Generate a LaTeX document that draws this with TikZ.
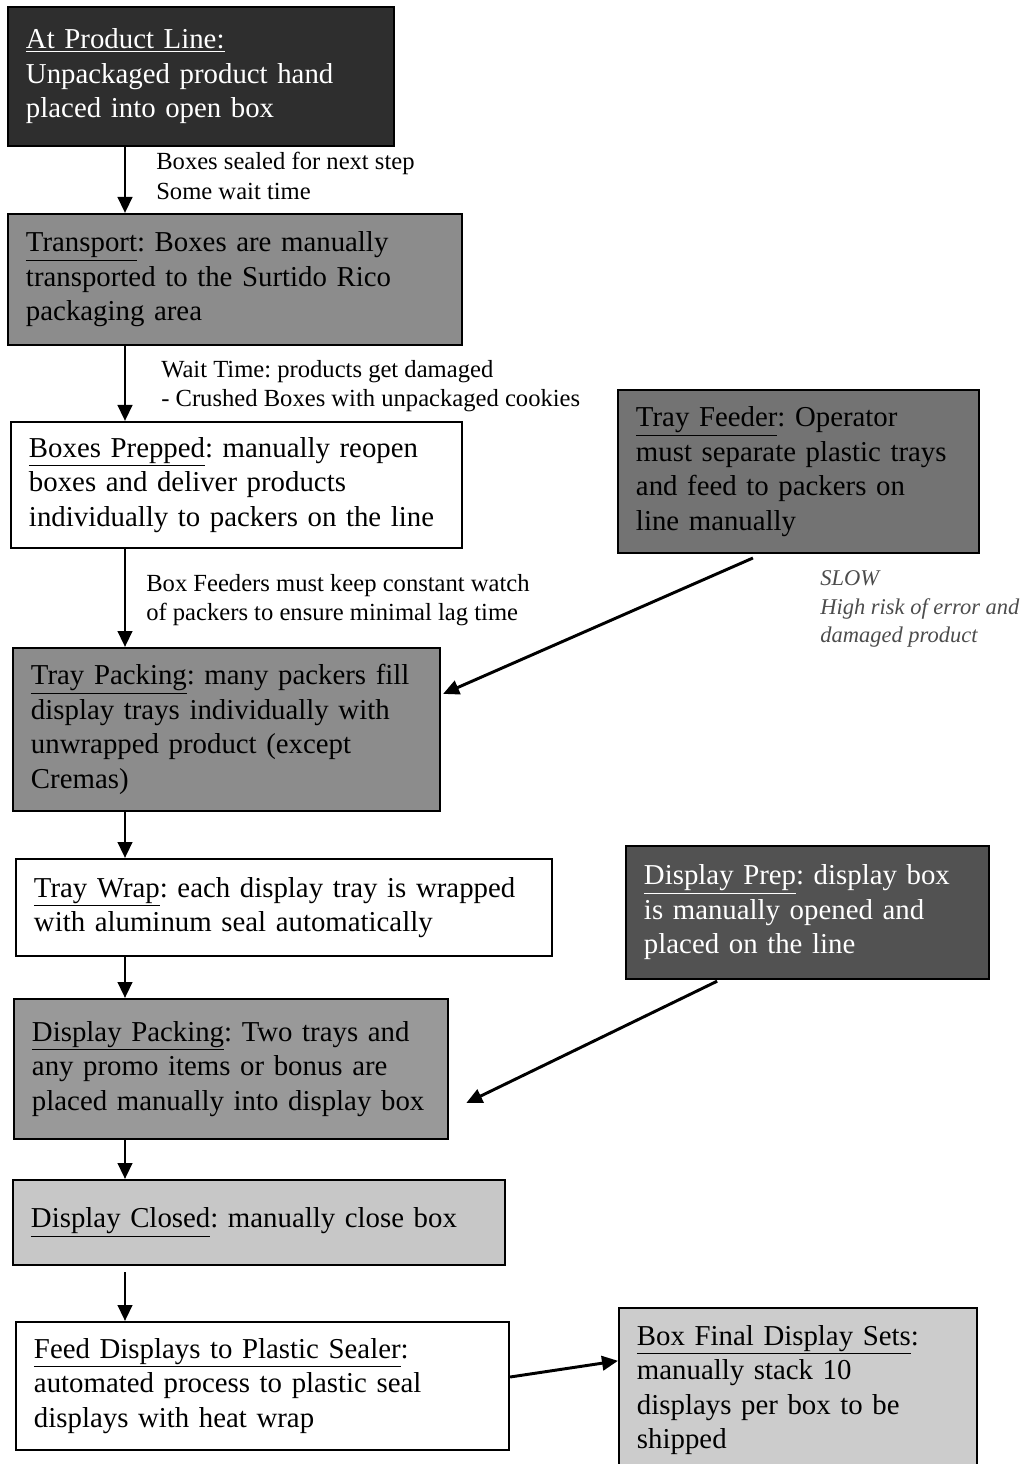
\documentclass[tikz,border=0pt]{standalone}
\usepackage{fontspec}
\setmainfont{Liberation Serif}
\usetikzlibrary{positioning,arrows.meta}
\frenchspacing

\tikzset{
  stepbox/.style={draw, line width=1.4pt, anchor=north west, inner xsep=0.45cm, inner ysep=0pt,
    align=left, font=\fontsize{20.5}{24.5}\selectfont},
  flow/.style={-{Triangle[length=0.4cm,width=0.36cm]}, line width=2.1pt},
  note/.style={anchor=west, inner sep=0pt, align=left, font=\fontsize{17.5}{21}\selectfont},
}

\begin{document}
\begin{tikzpicture}[x=0.025cm, y=-0.025cm]

    \useasboundingbox (0,0) rectangle (1022,1464);

    % main line
    \node[stepbox, fill=black!82, text=white, minimum width=9.65cm, minimum height=3.475cm, text width=8.75cm]
        (prodline) at (7,6) {\underline{At Product Line:}\\Unpackaged product hand\\placed into open box};
    \node[stepbox, fill=black!45, minimum width=11.35cm, minimum height=3.275cm, text width=10.45cm]
        (transport) at (7,213) {\underline{Transport}: Boxes are manually\\transported to the Surtido Rico\\packaging area};
    \node[stepbox, fill=white, minimum width=11.275cm, minimum height=3.15cm, text width=10.375cm]
        (prepped) at (10,421) {\underline{Boxes Prepped}: manually reopen\\boxes and deliver products\\individually to packers on the line};
    \node[stepbox, fill=black!45, minimum width=10.675cm, minimum height=4.075cm, text width=9.775cm]
        (traypack) at (12,647) {\underline{Tray Packing}: many packers fill\\display trays individually with\\unwrapped product (except\\Cremas)};
    \node[stepbox, fill=white, minimum width=13.4cm, minimum height=2.425cm, text width=12.5cm]
        (traywrap) at (15,858) {\underline{Tray Wrap}: each display tray is wrapped\\with aluminum seal automatically};
    \node[stepbox, fill=black!40, minimum width=10.85cm, minimum height=3.5cm, text width=9.95cm]
        (disppack) at (13,998) {\underline{Display Packing}: Two trays and\\any promo items or bonus are\\placed manually into display box};
    \node[stepbox, fill=black!22, minimum width=12.3cm, minimum height=2.125cm, text width=11.4cm]
        (dispclosed) at (12,1179) {\underline{Display Closed}: manually close box};
    \node[stepbox, fill=white, minimum width=12.325cm, minimum height=3.2cm, text width=11.425cm]
        (sealer) at (15,1321) {\underline{Feed Displays to Plastic Sealer}:\\automated process to plastic seal\\displays with heat wrap};

    % side steps
    \node[stepbox, fill=black!55, minimum width=9.025cm, minimum height=4.075cm, text width=8.125cm]
        (feeder) at (617,389) {\underline{Tray Feeder}: Operator\\must separate plastic trays\\and feed to packers on\\line manually};
    \node[stepbox, fill=black!68, text=white, minimum width=9.075cm, minimum height=3.325cm, text width=8.175cm]
        (dispprep) at (625,845) {\underline{Display Prep}: display box\\is manually opened and\\placed on the line};
    \node[stepbox, fill=black!20, minimum width=8.95cm, minimum height=4.1cm, text width=8.05cm]
        (boxfinal) at (618,1307) {\underline{Box Final Display Sets}:\\manually stack 10\\displays per box to be\\shipped};

    % remarks
    \node[note] (sealnote) at (156,176) {Boxes sealed for next step\\Some wait time};
    \node[note] (waitnote) at (161,386) {Wait Time: products get damaged\\- Crushed Boxes with unpackaged cookies};
    \node[note] (watchnote) at (146,600) {Box Feeders must keep constant watch\\of packers to ensure minimal lag time};
    \node[note, text=black!70, font=\fontsize{16}{20.5}\selectfont\itshape]
        (slownote) at (820,609) {SLOW\\High risk of error and\\damaged product};

    \coordinate (axis) at (125,0);

    \draw[flow] (prodline.south -| axis) -- (transport.north -| axis);
    \draw[flow] (transport.south -| axis) -- (prepped.north -| axis);
    \draw[flow] (prepped.south -| axis) -- (traypack.north -| axis);
    \draw[flow] (traypack.south -| axis) -- (traywrap.north -| axis);
    \draw[flow] (traywrap.south -| axis) -- (disppack.north -| axis);
    \draw[flow] (disppack.south -| axis) -- (dispclosed.north -| axis);
    \draw[flow, shorten <=0.15cm] (dispclosed.south -| axis) -- (sealer.north -| axis);

    \draw[flow] ([xshift=-1.14cm,yshift=-0.1cm]feeder.south) -- ([xshift=0.05cm,yshift=0.89cm]traypack.east);
    \draw[flow] ([xshift=-2.26cm,yshift=-0.03cm]dispprep.south) -- ([xshift=0.43cm,yshift=-0.85cm]disppack.east);
    \draw[flow] ([yshift=0.225cm]sealer.east) -- ([yshift=0.73cm]boxfinal.west);

\end{tikzpicture}
\end{document}
